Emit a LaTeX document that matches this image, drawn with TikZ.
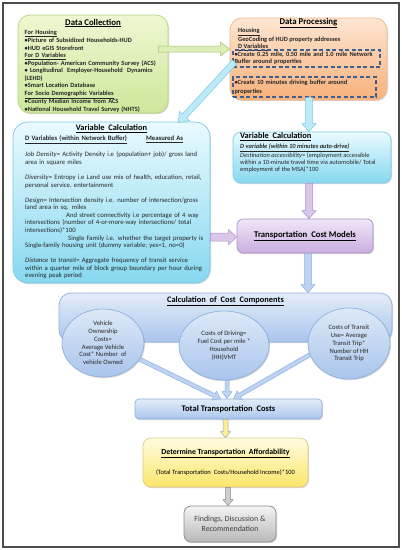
\documentclass[tikz,border=0pt]{standalone}
\usepackage{fontspec}
\setmainfont{Carlito}
\usetikzlibrary{calc,shadows,shapes.geometric}

\definecolor{dcT}{HTML}{EEF7D2}\definecolor{dcB}{HTML}{CDE79A}\definecolor{dcD}{HTML}{B5D67F}
\definecolor{dpT}{HTML}{FDE6D2}\definecolor{dpB}{HTML}{F8B07A}\definecolor{dpD}{HTML}{F0B888}
\definecolor{dashc}{HTML}{3F5F8F}
\definecolor{cyT}{HTML}{EAFAFF}\definecolor{cyB}{HTML}{86D8F0}\definecolor{cyD}{HTML}{7CCBE6}
\definecolor{lvT}{HTML}{F0E6F8}\definecolor{lvB}{HTML}{C9AEE0}\definecolor{lvD}{HTML}{A890C8}
\definecolor{blT}{HTML}{E3EDF9}\definecolor{blB}{HTML}{A9C5EC}\definecolor{blD}{HTML}{8EB0DE}
\definecolor{ywT}{HTML}{FFFBE0}\definecolor{ywB}{HTML}{FBE66A}\definecolor{ywD}{HTML}{E0CC88}
\definecolor{gyT}{HTML}{F4F4F4}\definecolor{gyB}{HTML}{B8B8B8}\definecolor{gyD}{HTML}{8C8C8C}
\definecolor{txt}{HTML}{262626}

\newcommand\blkarrow[6]{%
  \coordinate (bam) at ($(#3)!#6!(#2)$);
  \path[#1] ($(#2)!#4!90:(#3)$) -- ($(bam)!#4!90:(#3)$) -- ($(bam)!#5!90:(#3)$) -- (#3)
    -- ($(bam)!#5!-90:(#3)$) -- ($(bam)!#4!-90:(#3)$) -- ($(#2)!#4!-90:(#3)$) -- cycle;
}

\tikzset{
  boxbase/.style={rectangle, inner sep=0pt, line width=0.7pt,
    drop shadow={shadow xshift=1pt,shadow yshift=-1.2pt,opacity=0.25,fill=black!60}},
  dcbox/.style={boxbase, rounded corners=12pt, top color=dcT, bottom color=dcB, draw=dcD},
  dpbox/.style={boxbase, rounded corners=12pt, top color=dpT, bottom color=dpB, draw=dpD},
  cybox/.style={boxbase, top color=cyT, bottom color=cyB, draw=cyD},
  lvbox/.style={boxbase, rounded corners=6pt, top color=lvT, bottom color=lvB, draw=lvD},
  blbox/.style={boxbase, top color=blT, bottom color=blB, draw=blD},
  ywbox/.style={boxbase, rounded corners=8pt, top color=ywT, bottom color=ywB, draw=ywD},
  gybox/.style={boxbase, rounded corners=7pt, top color=gyT, bottom color=gyB, draw=gyD},
  ellbox/.style={ellipse, inner sep=0pt, line width=0.7pt, top color=blT!90!blB, bottom color=blB, draw=blD,
    align=center, font=\fontsize{6.6}{7.8}\selectfont, text=txt,
    drop shadow={shadow xshift=1pt,shadow yshift=-1.2pt,opacity=0.25,fill=black!60}},
  dashbox/.style={rectangle, draw=dashc, line width=1.1pt, dash pattern=on 4pt off 2.5pt,
    inner sep=1.5pt, align=left, text=txt},
  ttl/.style={inner sep=0pt, font=\bfseries\fontsize{8.8}{9}\selectfont, text=black},
  body/.style={inner sep=0pt, anchor=north west, align=left, text=txt},
  agreen/.style={fill=dcB!70!white, draw=dcD!90!black, line width=0.5pt},
  acyan/.style={fill=cyB!55!white, draw=cyD, line width=0.5pt},
  alav/.style={fill=lvB!70!white, draw=lvD, line width=0.5pt},
  ablue/.style={fill=blB!75!white, draw=blD, line width=0.5pt},
  ayel/.style={fill=ywB!70!white, draw=gyD!80!white, line width=0.5pt},
  agrey/.style={fill=gyB!70!white, draw=gyD, line width=0.5pt},
}

\begin{document}
\begin{tikzpicture}[x=1pt,y=-1pt]
\useasboundingbox (0,0) rectangle (402,550);
\fill[white] (0,0) rectangle (402,550);
\draw[line width=1.2pt, draw=black!70] (3,3) rectangle (399,547);

% ---------- Data Collection
\node[dcbox, minimum width=150pt, minimum height=98pt] (dc) at (93,64) {};
\node[ttl] (dct) at (93,23) {\underline{Data Collection}};
\node[body, text width=140pt, font=\bfseries\fontsize{6.4}{7.5}\selectfont] (dcb) at (24.5,29.5) {%
\underline{For Housing}\\
•Picture of Subsidized Households-HUD\\
•HUD eGIS Storefront\\
\underline{For D Variables}\\
•Population- American Community Survey (ACS)\\
• Longitudinal\ \ Employer-Household\ \ Dynamics\\
(LEHD)\\
•Smart Location Database\\
\underline{For Socio Demographic Variables}\\
•County Median Income from ACS\\
•National Household Travel Survey (NHTS)};

% ---------- Data Processing
\node[dpbox, minimum width=157pt, minimum height=82pt] (dp) at (308.5,59) {};
\node[ttl] (dpt) at (308.5,23) {\underline{Data Processing}};
\node[body, font=\bfseries\fontsize{6.4}{6.8}\selectfont] (dpb) at (238,28.3) {%
\underline{Housing}\\
GeoCoding of HUD property addresses\\
\underline{D Variables}};
\node[dashbox, minimum width=147pt, minimum height=17pt, text width=144pt,
  font=\bfseries\fontsize{6.4}{7.4}\selectfont] (dp1) at (306.5,58.5)
  {•Create 0.25 mile, 0.50 mile and 1.0 mile Network\\Buffer around properties};
\node[dashbox, minimum width=143pt, minimum height=20pt, text width=140pt,
  font=\bfseries\fontsize{6.4}{8.6}\selectfont] (dp2) at (304.5,87)
  {•Create 10 minutes driving buffer around\\properties};

% ---------- Variable Calculation (left)
\node[cybox, rounded corners=15pt, minimum width=197pt, minimum height=161pt] (vcl) at (111.5,202.5) {};
\node[ttl, font=\bfseries\fontsize{8.4}{9}\selectfont] (vclt) at (111.5,129) {\underline{Variable\ \ Calculation}};
\node[body, text width=185pt, font=\fontsize{6.7}{7.6}\selectfont] (vclb) at (25,135.5) {%
\textbf{\underline{D Variables (within Network Buffer)}}\hspace{19pt}\textbf{\underline{Measured As}}\\[7.3pt]
\textit{Job Density}= Activity Density i.e (population+ job)/ gross land\\
area in square miles\\[7.4pt]
\textit{Diversity}= Entropy i.e Land use mix of health, education, retail,\\
personal service, entertainment\\[7.4pt]
\textit{Design}= Intersection density i.e. number\ of intersection/gross\\
land area in sq. miles\\
\hspace*{41pt}And street connectivity i.e percentage of 4 way\\
intersections (number\ of 4-or-more-way\ intersections/ total\\
intersections)*100\\
\hspace*{43pt}Single Family i.e. whether the target property\ is\\
Single-family housing unit (dummy variable; yes=1, no=0)\\[7.4pt]
\textit{Distance to transit}= Aggregate frequency of transit service\\
within a quarter mile of block group boundary per hour during\\
evening peak period};

% ---------- Variable Calculation (right)
\node[cybox, rounded corners=8pt, minimum width=158pt, minimum height=51pt] (vcr) at (312,157.5) {};
\node[ttl, anchor=west, font=\bfseries\fontsize{8.4}{9}\selectfont] (vcrt) at (240,137) {\underline{Variable\ \ Calculation}};
\node[body, font=\fontsize{6.4}{7.4}\selectfont] (vcrb) at (240,143.5) {%
\textbf{\textit{\underline{D variable (within 10 minutes auto-drive)}}}\\
\textit{Destination accessibility}= (employment accessible\\
within a 10-minute travel time via automobile/ Total\\
employment\ of the MSA)*100};

% ---------- Transportation Cost Models
\node[lvbox, minimum width=136pt, minimum height=34pt, font=\bfseries\fontsize{8.7}{9}\selectfont, text=black]
  (tcm) at (305,236) {\underline{Transportation\ \ Cost Models}};

% ---------- Calculation of Cost Components
\node[blbox, rounded corners=12pt, minimum width=333pt, minimum height=49pt] (ccc) at (225.5,317.5) {};
\node[ttl, font=\bfseries\fontsize{8.4}{9}\selectfont] (ccct) at (225.5,301) {\underline{Calculation\ \ of\ \ Cost\ \ Components}};
\node[ellbox, minimum width=82pt, minimum height=68pt] (e1) at (103,343)
  {Vehicle\\Ownership\\Costs=\\Average Vehicle\\Cost* Number\ \ of\\vehicle Owned};
\node[ellbox, minimum width=90pt, minimum height=69pt] (e2) at (224,345.5)
  {Costs of Driving=\\Fuel Cost per mile *\\Household\\(HH)VMT};
\node[ellbox, minimum width=82pt, minimum height=71pt] (e3) at (349,343.5)
  {Costs of Transit\\Use= Average\\Transit Trip*\\Number\ of HH\\Transit Trip};

% ---------- Total Transportation Costs
\node[blbox, rounded corners=4pt, minimum width=187pt, minimum height=20pt,
  font=\bfseries\fontsize{8.5}{9}\selectfont, text=black] (ttc) at (228.5,409) {Total\ Transportation\ \ Costs};

% ---------- Determine Transportation Affordability
\node[ywbox, minimum width=165pt, minimum height=49pt, align=center, text=black] (dta) at (225.5,462.5)
  {{\bfseries\fontsize{7.8}{8}\selectfont\underline{Determine Transportation\ \ Affordability}}\\[7.5pt]
   {\fontsize{6.5}{7}\selectfont (Total Transportation\ \ Costs/Household Income)*100}};

% ---------- Findings
\node[gybox, minimum width=92pt, minimum height=36pt, align=center,
  font=\fontsize{7.9}{9.5}\selectfont, text=black!75] (fdr) at (230,524)
  {Findings, Discussion \&\\Recommendation};

% ---------- Arrows
\coordinate (a1s) at ([shift={(-10,-15)}]dc.east);
\coordinate (a1e) at (dp.west |- a1s);
\blkarrow{agreen}{a1s}{a1e}{3pt}{7pt}{9pt}

\coordinate (a2s) at ([shift={(2,3.5)}]dp1.west);
\coordinate (a2e) at ([shift={(-32,1)}]vcl.north east);
\blkarrow{acyan}{a2s}{a2e}{3pt}{7pt}{9pt}

\coordinate (a3s) at ([xshift=4.5pt]dp2.south);
\coordinate (a3e) at (a3s |- vcr.north);
\blkarrow{acyan}{a3s}{a3e}{3.5pt}{7pt}{8pt}

\coordinate (a4s) at ([xshift=-3pt]vcr.south);
\coordinate (a4e) at (a4s |- tcm.north);
\blkarrow{alav}{a4s}{a4e}{3.5pt}{7pt}{8pt}

\coordinate (a5s) at ([yshift=-1pt]vcl.east |- tcm.west);
\coordinate (a5e) at ([yshift=-1pt]tcm.west);
\blkarrow{alav}{a5s}{a5e}{4pt}{7.5pt}{8pt}

\coordinate (a6s) at ([xshift=3pt]tcm.south);
\coordinate (a6e) at (a6s |- ccc.north);
\blkarrow{ablue}{a6s}{a6e}{3.5pt}{7pt}{8pt}

\coordinate (a7s) at (e1.-24);
\coordinate (a7e) at ([xshift=-8pt]ttc.north);
\blkarrow{ablue}{a7s}{a7e}{2pt}{5pt}{7pt}

\coordinate (a8s) at ([xshift=3pt]e2.south);
\coordinate (a8e) at (a8s |- ttc.north);
\blkarrow{ablue}{a8s}{a8e}{2pt}{5pt}{7pt}

\coordinate (a9s) at (e3.196);
\coordinate (a9e) at ([xshift=5pt]ttc.north);
\blkarrow{ablue}{a9s}{a9e}{2pt}{5pt}{7pt}

\coordinate (a10s) at ([xshift=-3pt]ttc.south);
\coordinate (a10e) at (a10s |- dta.north);
\blkarrow{ayel}{a10s}{a10e}{2.5pt}{5pt}{6pt}

\coordinate (a11s) at ([xshift=2.5pt]dta.south);
\coordinate (a11e) at (a11s |- fdr.north);
\blkarrow{agrey}{a11s}{a11e}{2.5pt}{5pt}{6pt}
\end{tikzpicture}
\end{document}
